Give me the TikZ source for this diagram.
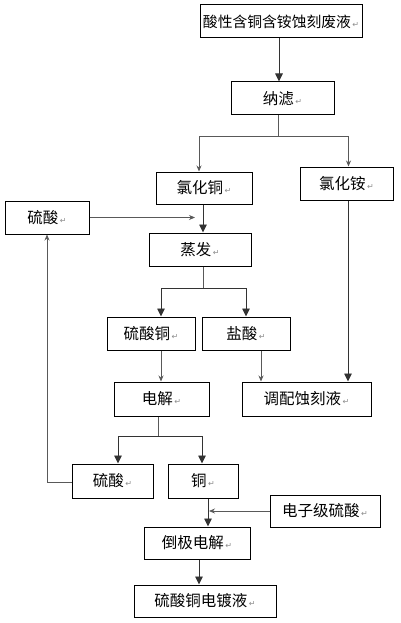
\documentclass[tikz,border=0pt]{standalone}
\usepackage{fontspec}
\usepackage{tikz}
\usetikzlibrary{arrows.meta}
\newfontfamily\cjk{Noto Sans CJK SC}
\newfontfamily\symfont{DejaVu Sans}
\newcommand{\ret}{{\symfont\fontsize{8}{8}\selectfont\color{black!45}\,↵}}

\begin{document}
\begin{tikzpicture}[x=1pt,y=-1pt,
  box/.style={draw=black,line width=1pt,inner sep=0pt,
    font=\cjk\fontsize{15.5}{18}\selectfont},
  bigarr/.style={draw=black!80,line width=.9pt,-{Triangle[length=8pt,width=7.5pt]}},
  smallarr/.style={draw=black!65,line width=.8pt,-{Stealth[length=6pt,width=5pt]}},
  plain/.style={draw=black!65,line width=.8pt}]
\useasboundingbox (0,0) rectangle (400,623);
% boxes
\node [box,font=\cjk\fontsize{14.8}{18}\selectfont,minimum width=162pt,minimum height=33pt] (waste) at (281,21.5) {酸性含铜含铵蚀刻废液\ret};
\node [box,minimum width=103pt,minimum height=33pt] (filt) at (282.5,98.5) {纳滤\ret};
\node [box,minimum width=96pt,minimum height=32pt] (cucl) at (204,188) {氯化铜\ret};
\node [box,minimum width=93pt,minimum height=33pt] (amcl) at (346.5,183.5) {氯化铵\ret};
\node [box,minimum width=84pt,minimum height=33pt] (acidA) at (47,217.5) {硫酸\ret};
\node [box,minimum width=102pt,minimum height=33pt] (evap) at (200,249.5) {蒸发\ret};
\node [box,minimum width=88pt,minimum height=33pt] (cuso) at (151,333.5) {硫酸铜\ret};
\node [box,minimum width=88pt,minimum height=33pt] (hcl) at (246,333.5) {盐酸\ret};
\node [box,minimum width=95pt,minimum height=34pt] (elec) at (161.5,399) {电解\ret};
\node [box,minimum width=129pt,minimum height=34pt] (etch) at (306.5,399) {调配蚀刻液\ret};
\node [box,minimum width=81pt,minimum height=34pt] (acidB) at (112.5,481) {硫酸\ret};
\node [box,minimum width=70pt,minimum height=34pt] (cu) at (203,481) {铜\ret};
\node [box,minimum width=110pt,minimum height=32pt] (eacid) at (325,511) {电子级硫酸\ret};
\node [box,minimum width=106pt,minimum height=32pt] (rev) at (197,543) {倒极电解\ret};
\node [box,minimum width=142pt,minimum height=32pt] (plat) at (205,601) {硫酸铜电镀液\ret};
% junctions
\coordinate (splitA) at (278,136);
\coordinate (splitB) at (203,288);
\coordinate (splitC) at (158,436);
\coordinate (back) at (47,482);
% filtering
\draw [bigarr] (waste.south -| 279,0) -- (filt.north -| 279,0);
\draw [plain] (filt.south -| splitA) -- (splitA);
\draw [smallarr] (splitA) -| ([xshift=-5pt]cucl.north);
\draw [smallarr] (splitA) -| ([xshift=2pt]amcl.north);
% evaporation
\draw [bigarr] ([xshift=-1pt]cucl.south) -- ([xshift=-1pt]cucl.south |- evap.north);
\draw [smallarr] (acidA.east) -- (195,217.5);
\draw [plain] (evap.south -| splitB) -- (splitB);
\draw [bigarr] (splitB) -| ([xshift=10pt]cuso.north);
\draw [bigarr] (splitB) -| (hcl.north);
% electrolysis
\draw [smallarr] ([xshift=10pt]cuso.south) -- ([xshift=10pt]cuso.south |- elec.north);
\draw [smallarr] ([xshift=15pt]hcl.south) -- ([xshift=15pt]hcl.south |- etch.north);
\draw [bigarr] ([xshift=1.5pt]amcl.south) -- ([xshift=1.5pt]amcl.south |- etch.north);
\draw [plain] (elec.south -| splitC) -- (splitC);
\draw [bigarr] (splitC) -| ([xshift=5.5pt]acidB.north);
\draw [bigarr] (splitC) -| (cu.north -| 202,0);
% recycle
\draw [smallarr] (acidB.west |- back) -- (back) -- (acidA.south);
% plating solution
\draw [bigarr] (cu.south -| 208,0) -- (rev.north -| 208,0);
\draw [smallarr] (eacid.west) -- (209,511);
\draw [bigarr] (rev.south -| 199,0) -- (plat.north -| 199,0);
\end{tikzpicture}
\end{document}
